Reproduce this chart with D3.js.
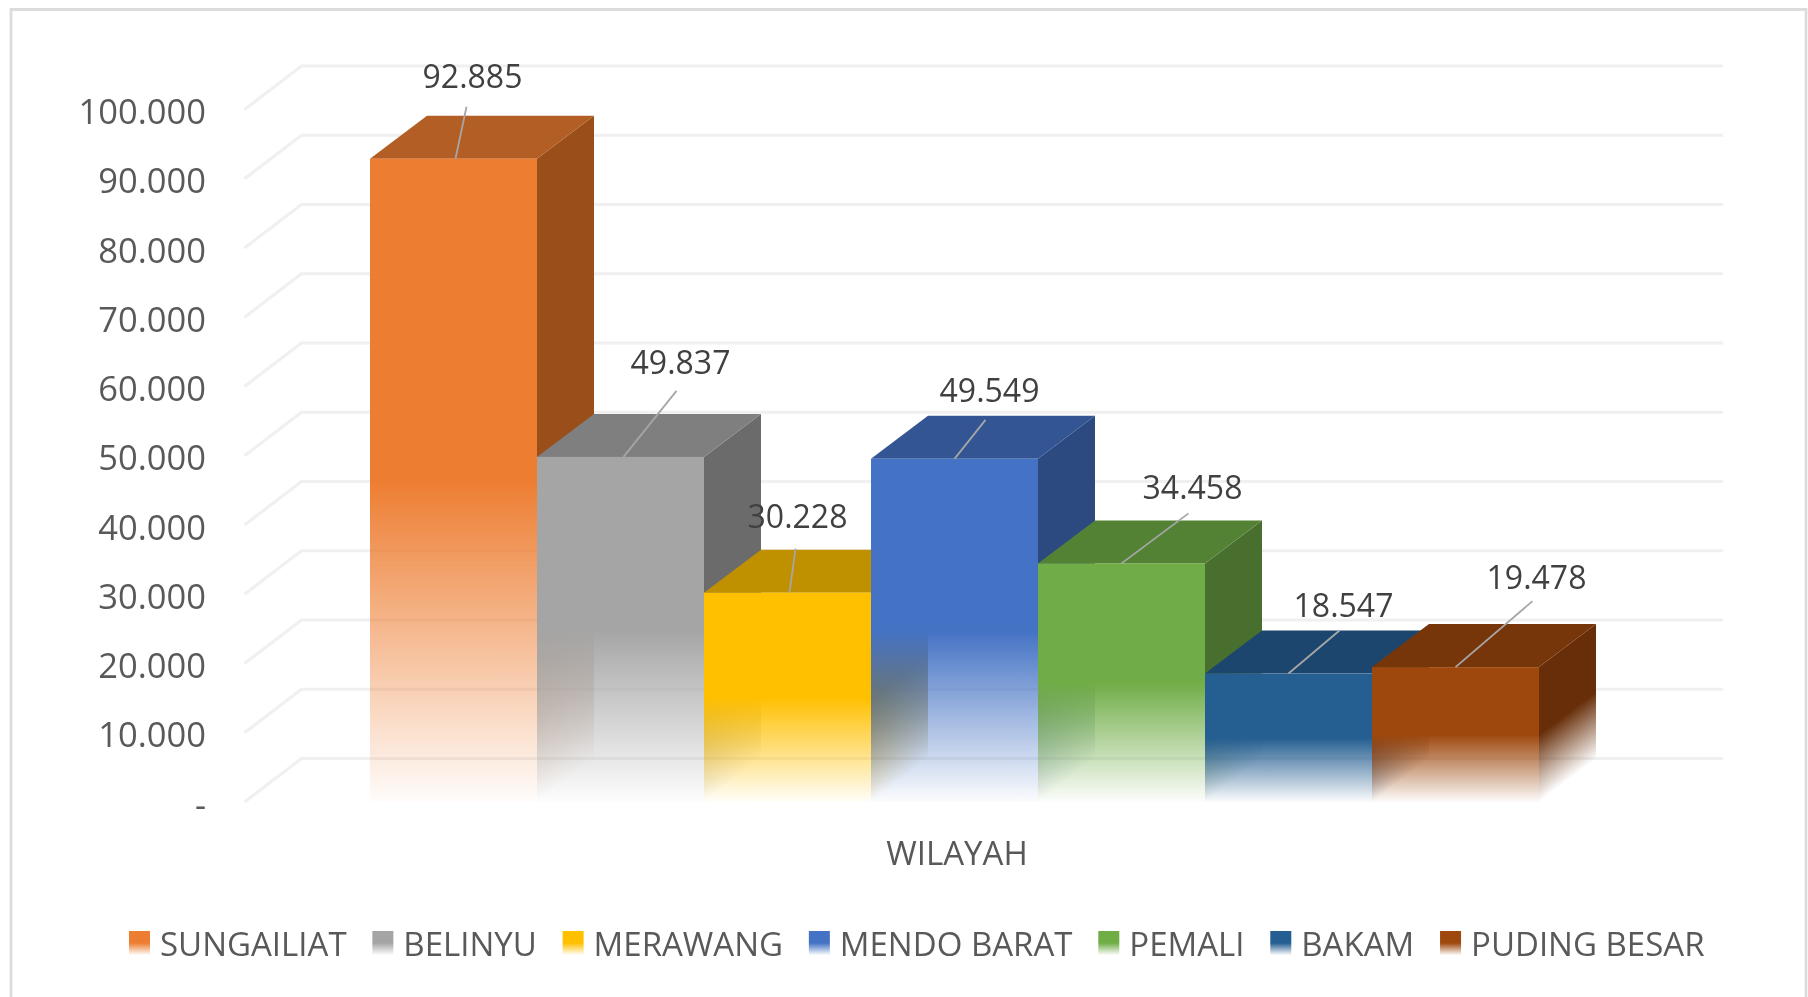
<!DOCTYPE html>
<html><head><meta charset="utf-8">
<script src="https://cdn.jsdelivr.net/npm/d3@7"></script>
<style>html,body{margin:0;padding:0;background:#fff;overflow:hidden}svg{display:block;filter:blur(.5px)}
text{font-family:"Open Sans",sans-serif}</style></head><body>
<svg id="c" width="1808" height="997"></svg>
<script>
const categories=["SUNGAILIAT","BELINYU","MERAWANG","MENDO BARAT","PEMALI","BAKAM","PUDING BESAR"];
const values=[92885,49837,30228,49549,34458,18547,19478];
const valueLabels=["92.885","49.837","30.228","49.549","34.458","18.547","19.478"];
const yTicks=[0,10000,20000,30000,40000,50000,60000,70000,80000,90000,100000];
const frontColors=["#ED7D31","#A5A5A5","#FFC000","#4472C4","#70AD47","#255E91","#9E480E"];
const topColors=["#B35E25","#7F7F7F","#BF9000","#335593","#548235","#1C466D","#77360A"];
const sideColors=["#9A4F1B","#6B6B6B","#A67D00","#2C4A80","#496F2E","#183D5F","#672E09"];
const labelOffsets=[[19,-82],[60,-94],[10,-76],[35,-68],[71,-76],[55,-68],[81,-90]];
const leaderOffsets=[[2,13,-52],[3,56,-66],[2,8,-44],[0,31,-39],[0,67,-50],[0,51,-43],[0,77,-66]];

const svg=d3.select("#c");
const defs=svg.append("defs");
const y=d3.scaleLinear().domain([0,100000]).range([802,109.5]);
const x=d3.scaleBand().domain(categories).range([370,1539]).padding(0);
const gridFrontX=244.5,depthX=57,depthY=-43,gridDepthY=-43.5,gridRight=1723,textCol="#595959";
const stops=[[0,1],[.5,1],[1,.02]],sideStops=[[0,1],[.5,1],[1,0]];

// chart frame
svg.append("path").attr("d","M11,999V9.5H1806V999").attr("fill","none").attr("stroke","#DCDCDC").attr("stroke-width",2.8);

// gridlines (side wall + back wall)
svg.append("g").selectAll("path").data(yTicks).join("path")
 .attr("d",d=>`M${gridFrontX},${y(d)}L${gridFrontX+depthX},${y(d)+gridDepthY}H${gridRight}`)
 .attr("fill","none").attr("stroke","#F0F0F0").attr("stroke-width",3.2);

// value axis
const axis=d3.axisLeft(y).tickValues(yTicks).tickSize(0).tickPadding(0)
 .tickFormat(d=>d===0?"-":d3.format(",")(d).replace(/,/g,"."));
const ag=svg.append("g").attr("transform","translate(206,3)").call(axis);
ag.select(".domain").remove();
ag.selectAll("text").attr("font-size",34.5).attr("fill",textCol).style("font-family",'"Open Sans",sans-serif');

// gradients
function fade(id,color,x1,y1,x2,y2,st){
 const g=defs.append("linearGradient").attr("id",id).attr("gradientUnits","userSpaceOnUse")
  .attr("x1",x1).attr("y1",y1).attr("x2",x2).attr("y2",y2);
 st.forEach(s=>g.append("stop").attr("offset",s[0]).attr("stop-color",color).attr("stop-opacity",s[1]));
}
const bars=svg.append("g");
categories.forEach((c,i)=>{
 const x0=x(c),x1=x0+x.bandwidth(),yt=y(values[i]),yb=y(0),g=bars.append("g");
 fade("f"+i,frontColors[i],0,yt,0,yb,stops);
 // side fade runs along the normal of the slanted bottom edge
 const h=yb-yt,len=Math.hypot(depthX,depthY),nx=-depthY/len,ny=depthX/len,L=h*ny;
 fade("s"+i,sideColors[i],x1-nx*L,yb-ny*L,x1,yb,sideStops);
 g.append("path").attr("d",`M${x1},${yt}L${x1+depthX},${yt+depthY}V${yb+depthY}L${x1},${yb}Z`).attr("fill",`url(#s${i})`);
 g.append("path").attr("d",`M${x0},${yt}L${x0+depthX},${yt+depthY}H${x1+depthX}L${x1},${yt}Z`).attr("fill",topColors[i]);
 g.append("rect").attr("x",x0).attr("y",yt).attr("width",x1-x0).attr("height",yb-yt).attr("fill",`url(#f${i})`);
});

// leader lines + data labels
const cx=c=>x(c)+x.bandwidth()/2;
svg.append("g").selectAll("line").data(categories).join("line")
 .attr("x1",(c,i)=>cx(c)+leaderOffsets[i][0]).attr("y1",(c,i)=>y(values[i]))
 .attr("x2",(c,i)=>cx(c)+leaderOffsets[i][1]).attr("y2",(c,i)=>y(values[i])+leaderOffsets[i][2])
 .attr("stroke","#A6A6A6").attr("stroke-width",1.8);
svg.append("g").selectAll("text").data(categories).join("text")
 .attr("x",(c,i)=>cx(c)+labelOffsets[i][0]).attr("y",(c,i)=>y(values[i])+labelOffsets[i][1])
 .attr("dy",".36em").attr("text-anchor","middle").attr("font-size",32).attr("fill","#404040")
 .text((c,i)=>valueLabels[i]);

// axis title
svg.append("text").attr("x",957).attr("y",853).attr("dy",".36em").attr("text-anchor","middle")
 .attr("font-size",33).attr("fill",textCol).text("WILAYAH");

// legend
let lx=129;
const legend=svg.append("g");
categories.forEach((c,i)=>{
 const g=legend.append("g");
 const lg=defs.append("linearGradient").attr("id","l"+i).attr("x1",0).attr("y1",0).attr("x2",0).attr("y2",1);
 stops.forEach(s=>lg.append("stop").attr("offset",s[0]).attr("stop-color",frontColors[i]).attr("stop-opacity",s[1]));
 g.append("rect").attr("x",lx).attr("y",931).attr("width",21).attr("height",24).attr("fill",`url(#l${i})`);
 const t=g.append("text").attr("x",lx+31).attr("y",956).attr("font-size",33).attr("fill",textCol).text(c);
 lx+=31+t.node().getComputedTextLength()+25.8;
});
</script></body></html>
